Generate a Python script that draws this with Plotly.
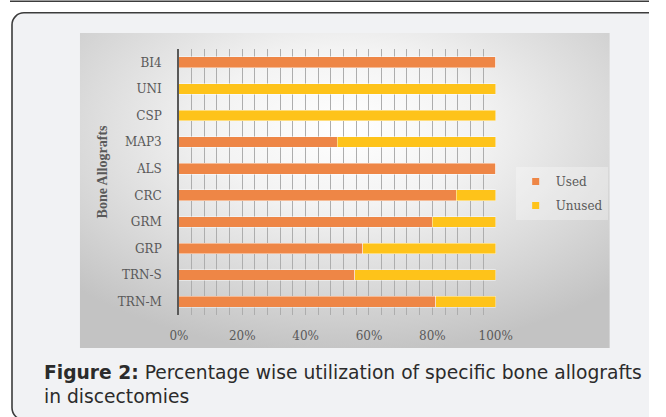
import base64
import plotly.graph_objects as go

# Allograft types, listed top to bottom as they appear on the chart
allografts = ["BI4", "UNI", "CSP", "MAP3", "ALS", "CRC", "GRM", "GRP", "TRN-S", "TRN-M"]
used_pct = [100, 0, 0, 50, 100, 87.5, 80, 58, 55.5, 81]
unused_pct = [0, 100, 100, 50, 0, 12.5, 20, 42, 44.5, 19]

x_tick_values = [0, 20, 40, 60, 80, 100]
x_tick_labels = ["0%", "20%", "40%", "60%", "80%", "100%"]

W, H = 666, 417
# horizontal extent the plotting surface actually occupies on the page
PAGE_X0, PAGE_W = 9.0, 639.4


def fx(px):
    """page x (px) -> paper fraction"""
    return (px - PAGE_X0) / PAGE_W


def fy(py):
    """page y (px) -> paper fraction"""
    return 1 - py / H


ORANGE = "#EE8646"
YELLOW = "#FEC31A"
GREY_TXT = "#595959"
SERIF = "DejaVu Serif, serif"
SERIF_NARROW = "Liberation Serif, serif"
SANS = "DejaVu Sans, sans-serif"

# page backdrop: framed caption box and the chart's radial-gradient panel
svg = f"""<svg xmlns='http://www.w3.org/2000/svg' width='{PAGE_W}' height='{H}' viewBox='{PAGE_X0} 0 {PAGE_W} {H}' preserveAspectRatio='none'>
<defs>
<radialGradient id='g' cx='0.5' cy='0.3' r='0.72'>
<stop offset='0' stop-color='#ffffff'/>
<stop offset='0.35' stop-color='#f3f3f3'/>
<stop offset='0.75' stop-color='#d6d6d6'/>
<stop offset='1' stop-color='#c3c3c3'/>
</radialGradient>
</defs>
<rect x='0' y='0' width='{W}' height='{H}' fill='#ffffff'/>
<path d='M-5 1.2 H654 Q664 1.2 664 -9' fill='none' stroke='#3c3c3c' stroke-width='1.6'/>
<rect x='11' y='12.8' width='662' height='407' rx='12' ry='12' fill='#f1f2f4' stroke='#3c3c3c' stroke-width='1.6'/>
<rect x='79' y='33' width='530' height='315' fill='url(#g)'/>
</svg>"""
bg_uri = "data:image/svg+xml;base64," + base64.b64encode(svg.encode()).decode()

fig = go.Figure()
fig.add_trace(go.Bar(
    y=allografts, x=used_pct, orientation="h", name="Used",
    marker=dict(color=ORANGE, line=dict(color="rgba(255,255,255,0.55)", width=0.8)),
    showlegend=False,
))
fig.add_trace(go.Bar(
    y=allografts, x=unused_pct, orientation="h", name="Unused",
    marker=dict(color=YELLOW, line=dict(color="rgba(255,255,255,0.55)", width=0.8)),
    showlegend=False,
))
# legend entries with small square keys
for name, col in (("Used", ORANGE), ("Unused", YELLOW)):
    fig.add_trace(go.Scatter(
        x=[None], y=[None], mode="markers", name=name, legendgroup=name,
        marker=dict(symbol="square", size=7, color=col),
    ))

fig.update_layout(
    width=W, height=H, autosize=False,
    margin=dict(l=0, r=0, t=0, b=0, pad=0),
    paper_bgcolor="rgba(0,0,0,0)",
    plot_bgcolor="rgba(0,0,0,0)",
    barmode="stack",
    bargap=0.6,
    images=[dict(source=bg_uri, xref="paper", yref="paper", x=0, y=1,
                 sizex=1, sizey=1, xanchor="left", yanchor="top",
                 sizing="stretch", layer="below")],
    xaxis=dict(
        domain=[fx(178), fx(495)], range=[0, 100],
        tickvals=x_tick_values, ticktext=x_tick_labels,
        tickfont=dict(family=SERIF, size=12, color=GREY_TXT),
        showgrid=True, gridcolor="#adadad", gridwidth=1,
        minor=dict(dtick=4, tick0=0, showgrid=True, gridcolor="#adadad", gridwidth=1),
        zeroline=False, showline=False, ticks="", ticklabelstandoff=12,
        fixedrange=True,
    ),
    yaxis=dict(
        domain=[fy(315), fy(49)],
        autorange="reversed", type="category",
        showline=True, linecolor=GREY_TXT, linewidth=1.5,
        showgrid=False, zeroline=False, ticks="", ticklabelstandoff=13,
        tickfont=dict(family=SERIF, size=12, color=GREY_TXT),
        fixedrange=True,
    ),
    legend=dict(
        x=fx(515), y=fy(167), xanchor="left", yanchor="top",
        bgcolor="rgba(255,255,255,0.3)",
        font=dict(family=SERIF, size=12, color=GREY_TXT),
        tracegroupgap=5, itemwidth=30,
    ),
    annotations=[
        dict(text="<b>Bone Allografts</b>", x=fx(92), y=fy(172),
             xref="paper", yref="paper", textangle=-90, showarrow=False,
             font=dict(family=SERIF_NARROW, size=14, color=GREY_TXT)),
        dict(text="<b>Figure 2:</b> Percentage wise utilization of specific bone allografts",
             x=fx(41), y=fy(372), xref="paper", yref="paper",
             xanchor="left", yanchor="middle", showarrow=False,
             font=dict(family=SANS, size=18.7, color="#2b2b2b")),
        dict(text="in discectomies",
             x=fx(41), y=fy(396), xref="paper", yref="paper",
             xanchor="left", yanchor="middle", showarrow=False,
             font=dict(family=SANS, size=18.7, color="#2b2b2b")),
    ],
)

fig.write_html("out.html", config={"responsive": False})
